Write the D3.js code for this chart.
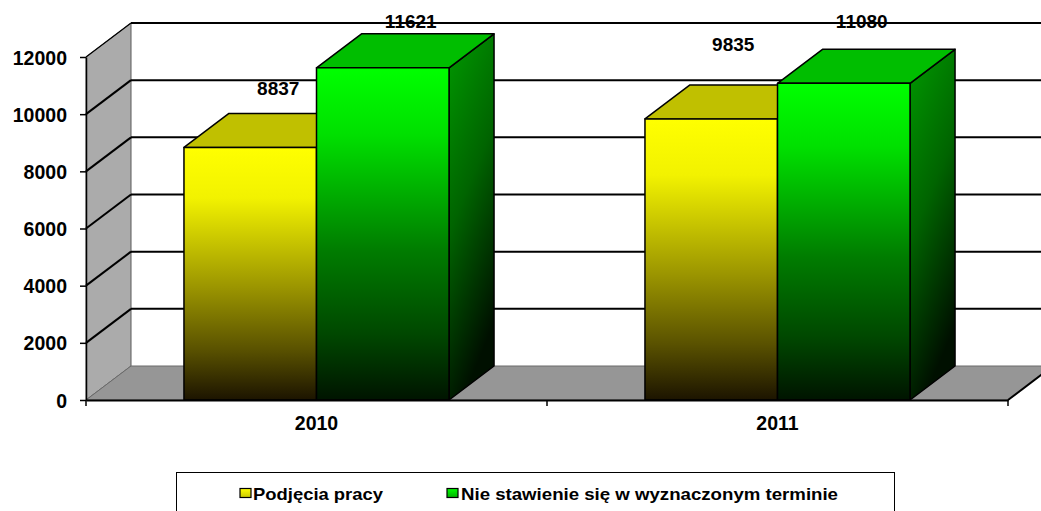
<!DOCTYPE html>
<html><head><meta charset="utf-8">
<script src="https://cdn.jsdelivr.net/npm/d3@7"></script>
<style>
html,body{margin:0;padding:0;background:#fff;}
svg{display:block;}
text{font-family:"Liberation Sans",Arial,sans-serif;font-weight:bold;fill:#000;}
</style></head>
<body>
<svg id="chart" width="1041" height="511"></svg>
<script>
// ---- data ----
const categories = ["2010", "2011"];
const seriesNames = ["Podjęcia pracy", "Nie stawienie się w wyznaczonym terminie"];
const podjeciaPracy = [8837, 9835];
const nieStawienie = [11621, 11080];
const yTicks = [0, 2000, 4000, 6000, 8000, 10000, 12000];

// ---- layout ----
const W = 1041, H = 511;
const X0 = 86, X1 = 1008, Y0 = 400, Y1 = 57;
const DX = 45, DY = -34;           // depth offset of 3D box
const svg = d3.select("#chart");
const defs = svg.append("defs");

const y = d3.scaleLinear().domain([0, 12000]).range([Y0, Y1]);
const x = d3.scaleBand().domain(categories).range([X0, X1]).padding(0);
const bw = x.bandwidth();
const gw = bw * 0.575;
const x1 = d3.scaleBand().domain(seriesNames).range([(bw - gw) / 2, (bw + gw) / 2]).padding(0);

const seriesData = [podjeciaPracy, nieStawienie];
const style = [
  {front: "gYellow", top: "#c0c000", side: "gYellowSide"},
  {front: "gGreen", top: "#00be00", side: "gGreenSide"}
];

function grad(id, stops, x2, y2) {
  const g = defs.append("linearGradient").attr("id", id)
    .attr("x1", 0).attr("y1", 0).attr("x2", x2).attr("y2", y2);
  stops.forEach(s => g.append("stop").attr("offset", s[0]).attr("stop-color", s[1]));
}
grad("gYellow", [[0, "#ffff00"], [0.2, "#f2f200"], [0.55, "#9c9600"], [0.8, "#5a5200"], [1, "#1c1400"]], 0, 1);
grad("gGreen", [[0, "#00ff00"], [0.2, "#00e000"], [0.55, "#007c00"], [0.8, "#004800"], [1, "#001400"]], 0, 1);
grad("gYellowSide", [[0, "#a0a000"], [1, "#141000"]], 0.3, 1);
grad("gGreenSide", [[0, "#009a00"], [0.5, "#006400"], [1, "#001000"]], 0.3, 1);
grad("gLegY", [[0, "#ffff00"], [1, "#c8c800"]], 0, 1);
grad("gLegG", [[0, "#00ff00"], [1, "#00b000"]], 0, 1);

const pts = a => a.map(p => p.join(",")).join(" ");

// ---- walls ----
svg.append("polygon")
  .attr("points", pts([[X0, y(0)], [X0, y(12000)], [X0 + DX, y(12000) + DY], [X0 + DX, y(0) + DY]]))
  .attr("fill", "#ababab").attr("stroke", "#5a5a5a").attr("stroke-width", 1);
svg.append("polygon")
  .attr("points", pts([[X0, Y0], [X1, Y0], [X1 + DX, Y0 + DY], [X0 + DX, Y0 + DY]]))
  .attr("fill", "#969696").attr("stroke", "#6a6a6a").attr("stroke-width", 1);

// ---- gridlines ----
const grid = svg.append("g");
yTicks.filter(v => v > 0).forEach(v => {
  grid.append("line").attr("x1", X0 + DX).attr("x2", W + 60)
    .attr("y1", y(v) + DY).attr("y2", y(v) + DY)
    .attr("stroke", "#000").attr("stroke-width", 2);
  grid.append("line").attr("x1", X0).attr("y1", y(v))
    .attr("x2", X0 + DX).attr("y2", y(v) + DY)
    .attr("stroke", "#000").attr("stroke-width", v === 12000 ? 1.2 : 2);
});

// ---- bars ----
const bars = svg.append("g");
categories.forEach((c, ci) => {
  seriesNames.forEach((s, si) => {
    const v = seriesData[si][ci];
    const xl = x(c) + x1(s), xr = xl + x1.bandwidth();
    const yt = y(v), yb = y(0);
    const g = bars.append("g").attr("stroke", "#000").attr("stroke-width", 1.5).attr("stroke-linejoin", "round");
    g.append("polygon").attr("points", pts([[xr, yb], [xr, yt], [xr + DX, yt + DY], [xr + DX, yb + DY]]))
      .attr("fill", `url(#${style[si].side})`);
    g.append("polygon").attr("points", pts([[xl, yt], [xr, yt], [xr + DX, yt + DY], [xl + DX, yt + DY]]))
      .attr("fill", style[si].top);
    g.append("rect").attr("x", xl).attr("y", yt).attr("width", xr - xl).attr("height", yb - yt)
      .attr("fill", `url(#${style[si].front})`);
  });
});

// ---- axes ----
const yAxis = svg.append("g").attr("transform", `translate(${X0},0)`)
  .call(d3.axisLeft(y).tickValues(yTicks).tickFormat(d3.format("d")).tickSize(6).tickSizeOuter(0).tickPadding(13));
yAxis.selectAll("text").style("font-size", "19.5px").attr("dy", "0.36em");
yAxis.selectAll("path,line").attr("stroke", "#000").attr("stroke-width", 1.5);

const xAxis = svg.append("g").attr("transform", `translate(0,${Y0})`)
  .call(d3.axisBottom(x).tickSize(0).tickPadding(16));
xAxis.selectAll("text").style("font-size", "19.5px");
xAxis.select(".domain").attr("stroke", "#000").attr("stroke-width", 2);
// tick marks between categories
const edges = categories.map(c => x(c)).concat([x(categories[categories.length - 1]) + bw]);
svg.append("g").selectAll("line").data(edges).join("line")
  .attr("x1", d => d).attr("x2", d => d).attr("y1", Y0).attr("y2", Y0 + 6)
  .attr("stroke", "#000").attr("stroke-width", 1.5);
// right floor edge
svg.append("line").attr("x1", X1).attr("y1", Y0).attr("x2", X1 + DX).attr("y2", Y0 + DY)
  .attr("stroke", "#000").attr("stroke-width", 2);

// ---- data labels ----
const labelNudge = [[[28, -52], [22, -68]], [[28, -40], [18, -55]]];
const labels = svg.append("g");
seriesNames.forEach((s, si) => {
  categories.forEach((c, ci) => {
    const v = seriesData[si][ci];
    const cx = x(c) + x1(s) + x1.bandwidth() / 2;
    labels.append("text").attr("x", cx + labelNudge[si][ci][0]).attr("y", y(v) + labelNudge[si][ci][1])
      .attr("text-anchor", "middle").style("font-size", "19px").text(v);
  });
});

// ---- legend ----
const leg = svg.append("g");
leg.append("rect").attr("x", 176.5).attr("y", 472.5).attr("width", 718).attr("height", 60)
  .attr("fill", "#fff").attr("stroke", "#000").attr("stroke-width", 1);
const legItems = [
  {x: 240, fill: "url(#gLegY)", tx: 253, w: 130},
  {x: 447, fill: "url(#gLegG)", tx: 461, w: 377}
];
seriesNames.forEach((s, i) => {
  const it = legItems[i];
  leg.append("rect").attr("x", it.x).attr("y", 488.5).attr("width", 11).attr("height", 9)
    .attr("fill", it.fill).attr("stroke", "#000").attr("stroke-width", 1.2);
  leg.append("text").attr("x", it.tx).attr("y", 500).style("font-size", "16.5px")
    .attr("textLength", it.w).attr("lengthAdjust", "spacingAndGlyphs").text(s);
});
</script>
</body></html>
